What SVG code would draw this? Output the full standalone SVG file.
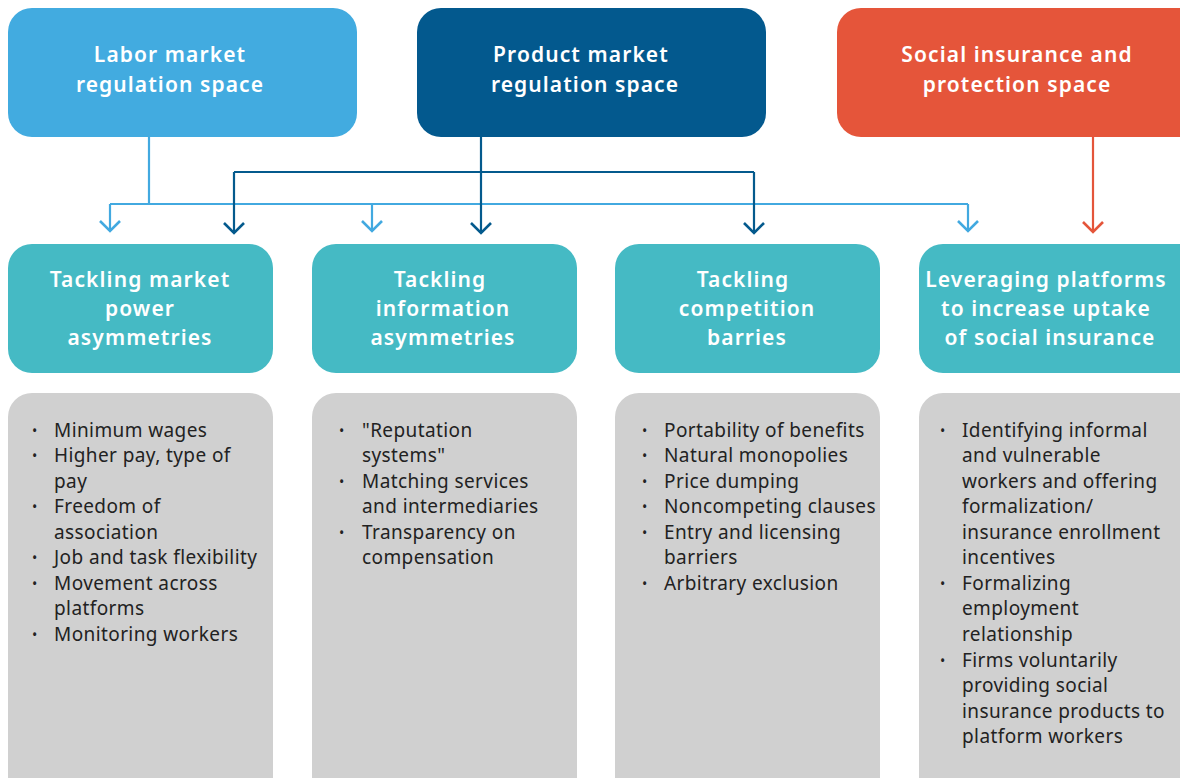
<svg xmlns="http://www.w3.org/2000/svg" width="1180" height="778" viewBox="0 0 1180 778">
  <style>
    .title { font-family: "Noto Sans", "Liberation Sans", sans-serif; font-size: 21px; font-weight: 600; fill: #ffffff; text-anchor: middle; letter-spacing: 1.1px; }
    .item { font-family: "Noto Sans", "Liberation Sans", sans-serif; font-size: 19px; fill: #222222; letter-spacing: 0.4px; }
    .bullet { font-family: "Noto Sans", "Liberation Sans", sans-serif; font-size: 14px; fill: #222222; }
    .light { stroke: #42a9e0; }
    .dark { stroke: #045a8d; }
    .red { stroke: #e4553a; }
    .conn { fill: none; stroke-width: 2.2; }
    .head { fill: none; stroke-width: 2.6; }
  </style>

  <rect width="1180" height="778" fill="#ffffff"/>

  <!-- Regulation spaces -->
  <g id="labor-space">
    <rect x="8" y="8" width="349" height="129" rx="24" fill="#42abe0"/>
    <text class="title" x="170" y="62">Labor market</text>
    <text class="title" x="170" y="92">regulation space</text>
  </g>
  <g id="product-space">
    <rect x="417" y="8" width="349" height="129" rx="24" fill="#03598e"/>
    <text class="title" x="581" y="62">Product market</text>
    <text class="title" x="585" y="92">regulation space</text>
  </g>
  <g id="social-space">
    <rect x="837" y="8" width="370" height="129" rx="24" fill="#e5553a"/>
    <text class="title" x="1017" y="62">Social insurance and</text>
    <text class="title" x="1017" y="92">protection space</text>
  </g>

  <!-- Connectors -->
  <g id="connectors">
    <path class="conn light" d="M149 137 V204 M110 204 H968 M110 204 V231 M372 204 V231 M968 204 V231"/>
    <path class="head light" d="M100 221 L110 231 L120 221 M362 221 L372 231 L382 221 M958 221 L968 231 L978 221"/>
    <path class="conn dark" d="M481 137 V233 M234 172 H754 M234 172 V233 M754 172 V233"/>
    <path class="head dark" d="M224 223 L234 233 L244 223 M471 223 L481 233 L491 223 M744 223 L754 233 L764 223"/>
    <path class="conn red" d="M1093 137 V232"/>
    <path class="head red" d="M1083 222 L1093 232 L1103 222"/>
  </g>

  <!-- Policy areas -->
  <g id="market-power">
    <rect x="8" y="244" width="265" height="129" rx="24" fill="#45bac4"/>
    <text class="title" x="140" y="287">Tackling market</text>
    <text class="title" x="140" y="316">power</text>
    <text class="title" x="140" y="345">asymmetries</text>
  </g>
  <g id="information">
    <rect x="312" y="244" width="265" height="129" rx="24" fill="#45bac4"/>
    <text class="title" x="440" y="287">Tackling</text>
    <text class="title" x="443" y="316">information</text>
    <text class="title" x="443" y="345">asymmetries</text>
  </g>
  <g id="competition">
    <rect x="615" y="244" width="265" height="129" rx="24" fill="#45bac4"/>
    <text class="title" x="743" y="287">Tackling</text>
    <text class="title" x="747" y="316">competition</text>
    <text class="title" x="747" y="345">barries</text>
  </g>
  <g id="social-insurance">
    <rect x="919" y="244" width="290" height="129" rx="24" fill="#45bac4"/>
    <text class="title" x="1046" y="287">Leveraging platforms</text>
    <text class="title" x="1046" y="316">to increase uptake</text>
    <text class="title" x="1050" y="345">of social insurance</text>
  </g>

  <!-- Measures -->
  <g id="market-power-list">
    <rect x="8" y="393" width="265" height="420" rx="24" fill="#d0d0d0"/>
    <g class="bullet"><text x="32" y="436">•</text><text x="32" y="461">•</text><text x="32" y="512">•</text><text x="32" y="563">•</text><text x="32" y="589">•</text><text x="32" y="640">•</text></g>
    <g class="item">
      <text x="54" y="437">Minimum wages</text>
      <text x="54" y="462">Higher pay, type of</text>
      <text x="54" y="488">pay</text>
      <text x="54" y="513">Freedom of</text>
      <text x="54" y="539">association</text>
      <text x="54" y="564">Job and task flexibility</text>
      <text x="54" y="590">Movement across</text>
      <text x="54" y="615">platforms</text>
      <text x="54" y="641">Monitoring workers</text>
    </g>
  </g>
  <g id="information-list">
    <rect x="312" y="393" width="265" height="420" rx="24" fill="#d0d0d0"/>
    <g class="bullet"><text x="339" y="436">•</text><text x="339" y="487">•</text><text x="339" y="538">•</text></g>
    <g class="item">
      <text x="362" y="437">"Reputation</text>
      <text x="362" y="462">systems"</text>
      <text x="362" y="488">Matching services</text>
      <text x="362" y="513">and intermediaries</text>
      <text x="362" y="539">Transparency on</text>
      <text x="362" y="564">compensation</text>
    </g>
  </g>
  <g id="competition-list">
    <rect x="615" y="393" width="265" height="420" rx="24" fill="#d0d0d0"/>
    <g class="bullet"><text x="642" y="436">•</text><text x="642" y="461">•</text><text x="642" y="487">•</text><text x="642" y="512">•</text><text x="642" y="538">•</text><text x="642" y="589">•</text></g>
    <g class="item">
      <text x="664" y="437">Portability of benefits</text>
      <text x="664" y="462">Natural monopolies</text>
      <text x="664" y="488">Price dumping</text>
      <text x="664" y="513">Noncompeting clauses</text>
      <text x="664" y="539">Entry and licensing</text>
      <text x="664" y="564">barriers</text>
      <text x="664" y="590">Arbitrary exclusion</text>
    </g>
  </g>
  <g id="social-insurance-list">
    <rect x="919" y="393" width="290" height="420" rx="24" fill="#d0d0d0"/>
    <g class="bullet"><text x="940" y="436">•</text><text x="940" y="589">•</text><text x="940" y="666">•</text></g>
    <g class="item">
      <text x="962" y="437">Identifying informal</text>
      <text x="962" y="462">and vulnerable</text>
      <text x="962" y="488">workers and offering</text>
      <text x="962" y="513">formalization/</text>
      <text x="962" y="539">insurance enrollment</text>
      <text x="962" y="564">incentives</text>
      <text x="962" y="590">Formalizing</text>
      <text x="962" y="615">employment</text>
      <text x="962" y="641">relationship</text>
      <text x="962" y="667">Firms voluntarily</text>
      <text x="962" y="692">providing social</text>
      <text x="962" y="718">insurance products to</text>
      <text x="962" y="743">platform workers</text>
    </g>
  </g>
</svg>
